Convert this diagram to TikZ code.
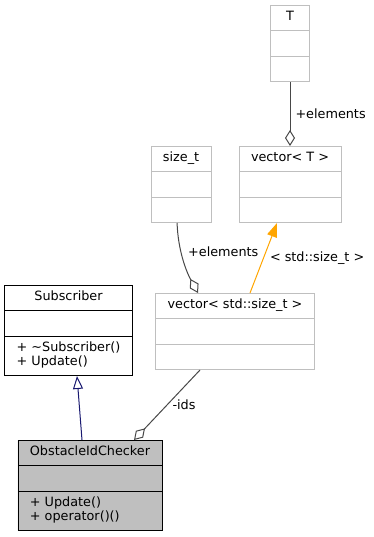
\documentclass[tikz,border=0pt]{standalone}
\usepackage{fontspec}
\setmainfont{DejaVu Sans}
\usetikzlibrary{positioning,arrows.meta,shapes.multipart}
\definecolor{EdgeGrey}{RGB}{72,72,72}
\definecolor{BoxGrey}{RGB}{191,191,191}
\definecolor{InheritBlue}{RGB}{25,25,112}
\definecolor{TemplOrange}{RGB}{255,165,0}
\newcommand{\classfont}{\fontsize{12.8}{14}\selectfont}
\tikzset{
  classbox/.style={rectangle split,rectangle split parts=3,draw=black,line width=0.8pt,
    inner xsep=12pt,inner ysep=5.3pt,font=\classfont,
    rectangle split part align={center,left,left}},
  extbox/.style={classbox,draw=BoxGrey},
  mainbox/.style={classbox,fill=BoxGrey},
  lbl/.style={font=\classfont,inner sep=0pt},
  aggr/.style={{Diamond[open,length=16pt,width=10pt]}-,line width=1pt,draw=EdgeGrey},
  inherit/.style={-{Triangle[open,length=13pt,width=10pt]},line width=1pt,draw=InheritBlue},
  templ/.style={-{Triangle[length=14pt,width=10pt]},line width=1pt,draw=TemplOrange}
}

\begin{document}
\begin{tikzpicture}[x=1pt,y=-1pt]
  \useasboundingbox (0,0) rectangle (373,537);
  % template and its instance
  \node[extbox,minimum width=102pt,anchor=north] (vecT) at (290,146)
    {vector< T >\strut\nodepart{second}\strut\nodepart{third}\strut};
  \node[extbox,minimum width=39pt,above=64pt of vecT] (T)
    {T\strut\nodepart{second}\strut\nodepart{third}\strut};
  \node[extbox,minimum width=60pt,left=27pt of vecT] (sizet)
    {size\_t\strut\nodepart{second}\strut\nodepart{third}\strut};
  \node[extbox,minimum width=158pt,anchor=north] (vecS) at (235,293)
    {vector< std::size\_t >\strut\nodepart{second}\strut\nodepart{third}\strut};
  % classes
  \node[classbox,minimum width=127pt,anchor=north] (subscr) at (68.5,285)
    {Subscriber\strut\nodepart{second}\strut
     \nodepart{third}\begin{tabular}{@{}l@{}}+ \textasciitilde Subscriber()\\+ Update()\end{tabular}};
  \node[mainbox,minimum width=144pt,anchor=north] (checker) at (90,440)
    {ObstacleIdChecker\strut\nodepart{second}\strut
     \nodepart{third}\begin{tabular}{@{}l@{}}+ Update()\\+ operator()()\end{tabular}};
  % relations
  \draw[aggr] (vecT.north) -- node[lbl,right=5pt] (elemT) {+elements} (T.south);
  \draw[aggr] ([xshift=-37pt]vecS.north) .. controls (186,271) and (178,250) .. ([xshift=-4pt]sizet.south);
  \node[lbl,anchor=west] (elemS) at (188,252) {+elements};
  \draw[templ] ([xshift=15pt]vecS.north) -- node[lbl,right=6pt] (targ) {< std::size\_t >} ([xshift=-13pt]vecT.south);
  \draw[inherit] ([xshift=-8pt]checker.north) -- ([xshift=8.5pt]subscr.south);
  \draw[aggr] ([xshift=44pt]checker.north) -- node[lbl,right=5pt] (ids) {-ids} ([xshift=-35pt]vecS.south);
\end{tikzpicture}
\end{document}
